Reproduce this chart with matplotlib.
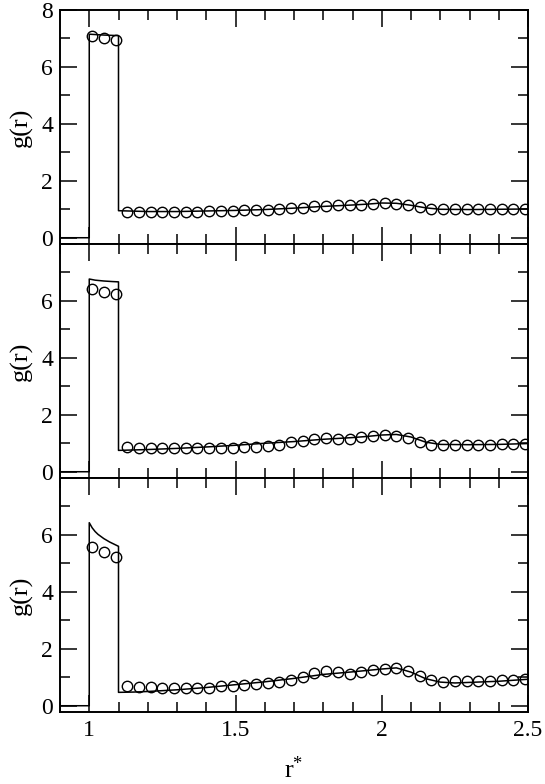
import matplotlib
matplotlib.use('Agg')
import matplotlib.pyplot as plt
from matplotlib.ticker import MultipleLocator

plt.rcParams['font.family'] = 'serif'
plt.rcParams['font.serif'] = ['Liberation Serif', 'Times New Roman', 'DejaVu Serif']
plt.rcParams['mathtext.fontset'] = 'custom'
plt.rcParams['mathtext.rm'] = 'Liberation Serif'
plt.rcParams['mathtext.it'] = 'Liberation Serif:italic'

# --- simulation points (circles) ---
r_sim = [1.01, 1.05, 1.09,
         1.13, 1.17, 1.21, 1.25, 1.29, 1.33, 1.37, 1.41, 1.45, 1.49,
         1.53, 1.57, 1.61, 1.65, 1.69, 1.73, 1.77, 1.81, 1.85, 1.89,
         1.93, 1.97, 2.01, 2.05, 2.09, 2.13, 2.17, 2.21, 2.25, 2.29,
         2.33, 2.37, 2.41, 2.45, 2.49]

g_sim_top = [7.07, 7.00, 6.93,
             0.91, 0.91, 0.91, 0.91, 0.91, 0.92, 0.92, 0.93, 0.94, 0.95,
             0.96, 0.97, 0.98, 1.00, 1.03, 1.06, 1.11, 1.12, 1.14, 1.14,
             1.16, 1.20, 1.22, 1.20, 1.15, 1.07, 1.01, 1.00, 1.00, 1.01,
             1.01, 1.01, 1.01, 1.01, 1.01]

g_sim_mid = [6.42, 6.32, 6.26,
             0.88, 0.82, 0.82, 0.84, 0.83, 0.82, 0.83, 0.82, 0.83, 0.84,
             0.86, 0.88, 0.91, 0.94, 1.03, 1.07, 1.14, 1.18, 1.16, 1.16,
             1.21, 1.25, 1.30, 1.27, 1.19, 1.05, 0.95, 0.94, 0.93, 0.94,
             0.94, 0.95, 0.96, 0.97, 0.99]

g_sim_bot = [5.57, 5.39, 5.22,
             0.70, 0.66, 0.66, 0.64, 0.64, 0.63, 0.63, 0.64, 0.68, 0.70,
             0.72, 0.76, 0.80, 0.82, 0.91, 1.00, 1.16, 1.21, 1.19, 1.13,
             1.17, 1.24, 1.29, 1.32, 1.23, 1.03, 0.90, 0.85, 0.86, 0.87,
             0.87, 0.88, 0.89, 0.91, 0.93]

# --- theory curves (solid lines) ---
r_th_top = [0.9, 1.0, 1.0, 1.05, 1.1, 1.1, 1.2, 1.3, 1.4, 1.5, 1.6, 1.7,
            1.8, 1.9, 1.95, 2.0, 2.05, 2.1, 2.15, 2.2, 2.3, 2.4, 2.5]
g_th_top = [0.0, 0.0, 7.15, 7.12, 7.10, 0.95, 0.92, 0.92, 0.94, 0.96, 0.99, 1.04,
            1.10, 1.15, 1.18, 1.22, 1.21, 1.14, 1.05, 1.00, 0.99, 1.00, 1.01]

r_th_mid = [0.9, 1.0, 1.0, 1.02, 1.05, 1.08, 1.1, 1.1, 1.2, 1.3, 1.4, 1.5, 1.6,
            1.7, 1.8, 1.9, 1.95, 2.0, 2.05, 2.1, 2.15, 2.2, 2.3, 2.4, 2.5]
g_th_mid = [0.0, 0.0, 6.77, 6.73, 6.70, 6.68, 6.67, 0.75, 0.78, 0.82, 0.87, 0.93, 1.00,
            1.06, 1.14, 1.20, 1.24, 1.29, 1.31, 1.22, 1.04, 0.96, 0.95, 0.96, 0.99]

r_th_bot = [0.9, 1.0, 1.0, 1.01, 1.02, 1.03, 1.05, 1.07, 1.09, 1.1, 1.1, 1.15,
            1.2, 1.3, 1.4, 1.5, 1.6, 1.7, 1.8, 1.9, 1.95, 2.0, 2.05, 2.1,
            2.15, 2.2, 2.25, 2.3, 2.4, 2.5]
g_th_bot = [0.0, 0.0, 6.43, 6.25, 6.12, 6.02, 5.87, 5.75, 5.65, 5.60, 0.47, 0.48,
            0.50, 0.56, 0.64, 0.74, 0.84, 0.96, 1.10, 1.19, 1.24, 1.29, 1.33, 1.18,
            0.95, 0.83, 0.80, 0.82, 0.86, 0.93]

panels = [(r_th_top, g_th_top, g_sim_top),
          (r_th_mid, g_th_mid, g_sim_mid),
          (r_th_bot, g_th_bot, g_sim_bot)]

W, H = 545, 784
fig = plt.figure(figsize=(W / 100, H / 100), dpi=100)

left, right = 60, 528
top, bottom = 10, 712
ph = (bottom - top) / 3

for i, (r_th, g_th, g_sim) in enumerate(panels):
    y0 = top + i * ph
    ax = fig.add_axes([left / W, 1 - (y0 + ph) / H, (right - left) / W, ph / H])
    ax.plot(r_th, g_th, color='black', linewidth=1.1)
    ax.plot(r_sim, g_sim, linestyle='none', marker='o', markersize=7.5,
            markerfacecolor='none', markeredgecolor='black', markeredgewidth=1.0)

    ax.set_xlim(0.9, 2.5)
    ax.set_ylim(-0.22, 8)
    ax.xaxis.set_minor_locator(MultipleLocator(0.1))
    ax.yaxis.set_minor_locator(MultipleLocator(1))
    ax.tick_params(which='both', direction='in', top=True, right=True,
                   width=1.1, labelsize=17)
    ax.tick_params(which='major', length=12, pad=5)
    ax.tick_params(which='minor', length=7)
    for sp in ax.spines.values():
        sp.set_linewidth(1.4)

    ax.set_xticks([1, 1.5, 2, 2.5])
    ax.set_xticklabels(['1', '1.5', '2', '2.5'])
    ax.set_yticks([0, 2, 4, 6, 8])
    if i == 0:
        ax.set_yticklabels(['0', '2', '4', '6', '8'])
    else:
        ax.set_yticklabels(['0', '2', '4', '6', ''])
    if i < 2:
        ax.tick_params(labelbottom=False)
    else:
        ax.tick_params(axis='x', pad=6)
        ax.set_xlabel(r'r$^{*}$', fontsize=19, labelpad=11)
    ax.set_ylabel('g(r)', fontsize=19, labelpad=6)

fig.savefig('out.png', dpi=100)
